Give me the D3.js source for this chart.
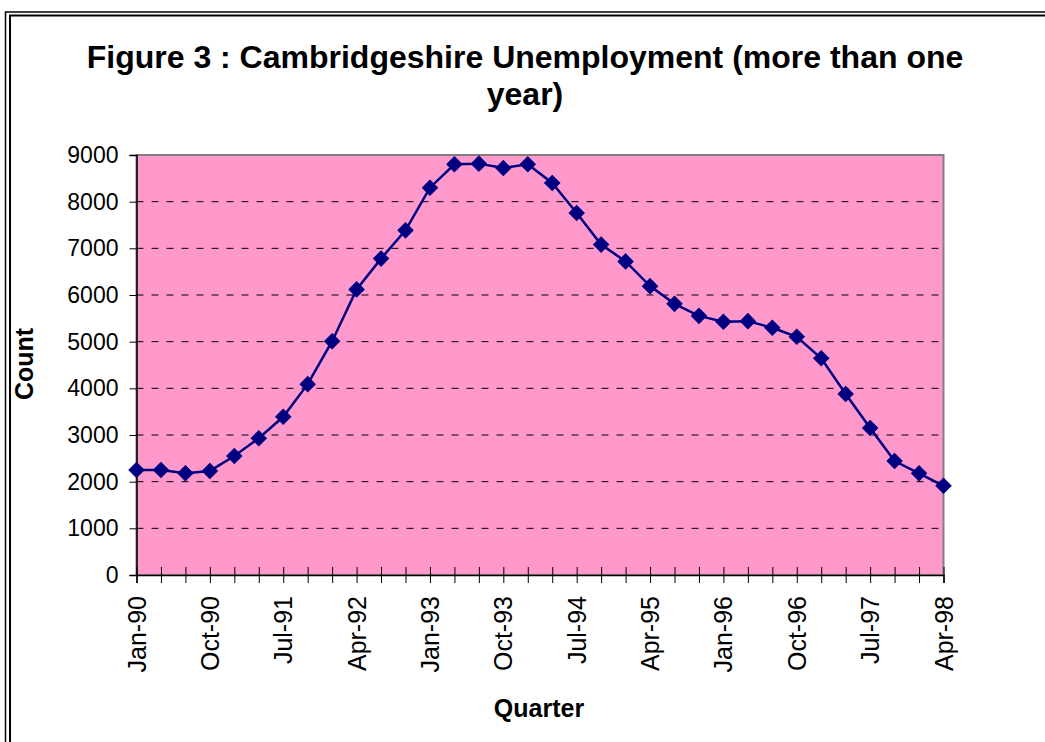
<!DOCTYPE html>
<html>
<head>
<meta charset="utf-8">
<script src="https://cdn.jsdelivr.net/npm/d3@7"></script>
<style>
  html, body { margin: 0; padding: 0; background: #fff; }
  svg { display: block; font-family: "Liberation Sans", Arial, sans-serif; }
</style>
</head>
<body>
<svg id="chart" width="1045" height="742"></svg>
<script>
// ---- data ----
const quarters = ["Jan-90","Apr-90","Jul-90","Oct-90","Jan-91","Apr-91","Jul-91","Oct-91",
  "Jan-92","Apr-92","Jul-92","Oct-92","Jan-93","Apr-93","Jul-93","Oct-93",
  "Jan-94","Apr-94","Jul-94","Oct-94","Jan-95","Apr-95","Jul-95","Oct-95",
  "Jan-96","Apr-96","Jul-96","Oct-96","Jan-97","Apr-97","Jul-97","Oct-97",
  "Jan-98","Apr-98"];
const counts = [2250, 2250, 2180, 2230, 2550, 2930, 3390, 4090,
  5010, 6120, 6780, 7385, 8300, 8800, 8815, 8720,
  8800, 8400, 7757, 7080, 6720, 6190, 5810, 5553,
  5425, 5440, 5297, 5105, 4644, 3880, 3150, 2443,
  2180, 1912];
const yTicks = [0,1000,2000,3000,4000,5000,6000,7000,8000,9000];
const labelEvery = 3;
const titleLines = ["Figure 3 : Cambridgeshire Unemployment (more than one", "year)"];
const xTitle = "Quarter";
const yTitle = "Count";

// ---- layout ----
const svg = d3.select("#chart");
const plot = {left: 136.5, right: 943.5, top: 155, bottom: 575};

// frame (double line)
svg.append("path").attr("d", "M5.5,742 L5.5,12 L1045,12")
  .attr("fill","none").attr("stroke","#000").attr("stroke-width",1.5);
svg.append("path").attr("d", "M10,742 L10,15.5 L1045,15.5")
  .attr("fill","none").attr("stroke","#000").attr("stroke-width",2);

// title
svg.append("g").selectAll("text").data(titleLines).join("text")
  .attr("x", 525).attr("y", (d,i) => 68 + i*36.5)
  .attr("text-anchor","middle")
  .attr("font-weight","bold").attr("font-size", 32)
  .text(d => d);

const x = d3.scalePoint().domain(quarters).range([plot.left, plot.right]);
const y = d3.scaleLinear().domain([0, 9000]).range([plot.bottom, plot.top]);

// plot background
svg.append("rect")
  .attr("x", plot.left).attr("y", plot.top)
  .attr("width", plot.right - plot.left).attr("height", plot.bottom - plot.top)
  .attr("fill", "#FF99CC").attr("stroke", "#808080").attr("stroke-width", 2);

// gridlines
svg.append("g").selectAll("line").data(yTicks.filter(v => v > 0 && v < 9000)).join("line")
  .attr("x1", plot.left).attr("x2", plot.right)
  .attr("y1", d => y(d)).attr("y2", d => y(d))
  .attr("stroke", "#000").attr("stroke-width", 1)
  .attr("stroke-dasharray", "7,8");

// y axis
const yAxis = svg.append("g").attr("transform", `translate(${plot.left},0)`)
  .call(d3.axisLeft(y).tickValues(yTicks).tickSize(7).tickPadding(11).tickFormat(d3.format("d")));
yAxis.select(".domain").attr("stroke","#000").attr("stroke-width",1.5);
yAxis.selectAll(".tick line").attr("stroke","#000");
yAxis.selectAll("text").attr("font-size", 23).attr("fill","#000")
  .attr("font-family","Liberation Sans, Arial, sans-serif");

// x axis
const xAxis = svg.append("g").attr("transform", `translate(0,${plot.bottom})`)
  .call(d3.axisBottom(x).tickSize(8).tickFormat(""));
xAxis.select(".domain").attr("stroke","#000").attr("stroke-width",1.5);
xAxis.selectAll(".tick line").attr("y1", -8).attr("stroke","#000");

// x labels (every 3rd)
svg.append("g").selectAll("text")
  .data(quarters.filter((d,i) => i % labelEvery === 0)).join("text")
  .attr("transform", d => `translate(${x(d)},${plot.bottom + 21}) rotate(-90)`)
  .attr("text-anchor","end").attr("dy","0.36em")
  .attr("font-size", 25).attr("fill","#000")
  .text(d => d);

// axis titles
svg.append("text").attr("x", 539).attr("y", 717)
  .attr("text-anchor","middle").attr("font-weight","bold").attr("font-size",25)
  .text(xTitle);
svg.append("text").attr("transform","translate(33,364) rotate(-90)")
  .attr("text-anchor","middle").attr("font-weight","bold").attr("font-size",25)
  .text(yTitle);

// line
svg.append("path").datum(counts)
  .attr("fill","none").attr("stroke","#000080").attr("stroke-width",2.5)
  .attr("d", d3.line().x((d,i) => x(quarters[i])).y(d => y(d)));

// markers
const diamond = d3.symbol().type(d3.symbolSquare).size(115);
svg.append("g").selectAll("path").data(counts).join("path")
  .attr("transform", (d,i) => `translate(${x(quarters[i])},${y(d)}) rotate(45)`)
  .attr("d", diamond)
  .attr("fill","#000080").attr("stroke","#000080").attr("stroke-width",1);
</script>
</body>
</html>
